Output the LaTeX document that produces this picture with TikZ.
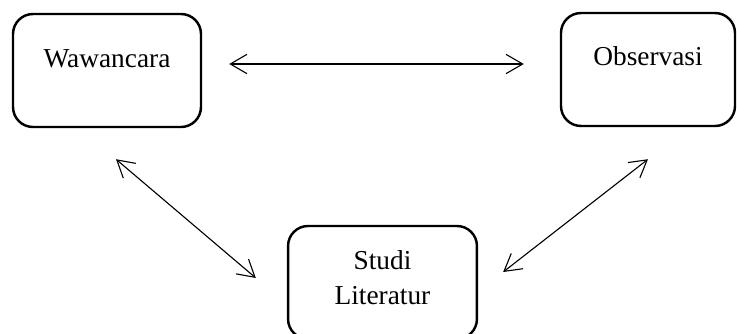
\documentclass[tikz,border=0pt]{standalone}
\usepackage{fontspec}
\setmainfont{Liberation Serif}
\usetikzlibrary{arrows.meta,calc}
\begin{document}
\begin{tikzpicture}[x=0.45pt, y=-0.45pt, >={Straight Barb[length=7.5pt,width=8.7pt]},
    box/.style={draw, line width=1.1pt, rounded corners=9pt, inner sep=0pt,
        minimum height=50.85pt, font=\fontsize{12.3}{14.8}\selectfont, align=center},
    link/.style={<->, line width=0.5pt}]
\useasboundingbox (0,0) rectangle (737,333);
\node (waw) at (107,70.5)[box, minimum width=84.6pt, text height=23.85pt, text depth=27pt]{Wawancara};
\node (obs) at (648,69.5)[box, minimum width=78.3pt, text height=23.4pt, text depth=27.45pt]{Observasi};
\node (lit) at (382.5,282.5)[box, minimum width=85pt, text height=35.1pt, text depth=15.75pt]{Studi\\[0.8pt]Literatur};
\draw[link]($(waw.east)+(27,-6.5)$)--($(obs.west)+(-36,-5.5)$);
\draw[link]($(waw.south)+(9,31)$)--($(lit.west)+(-31,-4.5)$);
\draw[link]($(obs.south)+(0,32)$)--($(lit.east)+(25,-10.5)$);

\end{tikzpicture}
\end{document}
